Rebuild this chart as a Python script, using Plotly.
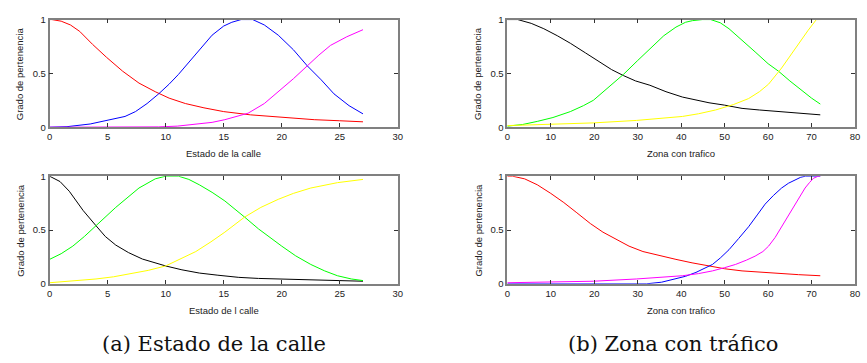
import plotly.graph_objects as go

# ---------------- data ----------------
# (a) top: Estado de la calle
a1_red_x = [0, 0.2, 1.0, 1.8, 2.6, 3.7, 4.9, 6.3, 7.7, 9.1, 10.3, 11.7, 13.3, 15.0, 17.3, 19.7, 22.8, 25.0, 27.0]
a1_red_y = [1.0, 1.0, 0.985, 0.95, 0.89, 0.77, 0.65, 0.52, 0.41, 0.33, 0.27, 0.22, 0.18, 0.145, 0.115, 0.094, 0.07, 0.06, 0.05]
a1_blue_x = [0, 1.5, 3.5, 5.4, 6.5, 7.4, 8.4, 9.4, 10.3, 11.1, 12.0, 12.8, 14.0, 15.0, 15.7, 16.5, 17.5, 18.5, 19.7, 21.0, 22.2, 23.4, 24.5, 25.8, 27.0]
a1_blue_y = [0.0, 0.005, 0.03, 0.07, 0.10, 0.145, 0.22, 0.31, 0.40, 0.49, 0.60, 0.70, 0.855, 0.94, 0.975, 1.0, 1.0, 0.95, 0.855, 0.72, 0.57, 0.44, 0.31, 0.2, 0.124]
a1_mag_x = [0, 5, 9.4, 11.0, 12.6, 14.0, 15.1, 16.2, 17.1, 18.5, 19.7, 21.0, 22.2, 23.2, 24.2, 25.6, 27.0]
a1_mag_y = [0.0, 0.0, 0.003, 0.01, 0.025, 0.045, 0.07, 0.10, 0.13, 0.22, 0.33, 0.45, 0.57, 0.67, 0.76, 0.84, 0.906]

# (b) top: Zona con trafico
b1_blk_x = [0, 2.4, 5.5, 8.4, 11.5, 14.5, 18.0, 21.4, 24.0, 26.7, 29.5, 32.8, 36.5, 40.3, 43.5, 46.4, 50.0, 54.0, 58.0, 62.4, 67.0, 72.0]
b1_blk_y = [1.0, 1.0, 0.965, 0.915, 0.85, 0.78, 0.69, 0.6, 0.535, 0.48, 0.43, 0.39, 0.33, 0.28, 0.25, 0.227, 0.205, 0.175, 0.16, 0.145, 0.13, 0.115]
b1_grn_x = [0, 3.5, 6.9, 10.5, 14.5, 17.5, 19.8, 23.0, 26.7, 30.0, 32.8, 36.0, 38.8, 41.0, 42.6, 44.9, 46.8, 49.0, 51.0, 54.0, 57.0, 60.0, 62.4, 65.0, 67.7, 70.0, 72.0]
b1_grn_y = [0.01, 0.025, 0.054, 0.09, 0.145, 0.2, 0.25, 0.36, 0.49, 0.62, 0.73, 0.85, 0.93, 0.975, 0.99, 1.0, 1.0, 0.97, 0.915, 0.81, 0.70, 0.59, 0.52, 0.43, 0.34, 0.27, 0.215]
b1_yel_x = [0, 10.0, 19.8, 29.7, 35.0, 40.3, 44.0, 47.9, 52.0, 55.5, 58.0, 60.1, 63.1, 66.2, 69.2, 71.1, 72.0]
b1_yel_y = [0.015, 0.025, 0.04, 0.063, 0.08, 0.1, 0.125, 0.16, 0.21, 0.266, 0.33, 0.40, 0.55, 0.73, 0.9, 1.0, 1.0]

# (a) bottom: Estado de l calle
a2_blk_x = [0, 0.9, 1.7, 2.3, 2.9, 4.0, 4.8, 5.7, 6.8, 8.0, 9.0, 10.0, 11.4, 12.9, 14.5, 16.3, 18.0, 19.7, 22.0, 24.2, 27.0]
a2_blk_y = [1.0, 0.95, 0.86, 0.77, 0.68, 0.54, 0.44, 0.36, 0.29, 0.23, 0.195, 0.166, 0.13, 0.10, 0.08, 0.06, 0.05, 0.045, 0.035, 0.027, 0.024]
a2_grn_x = [0, 1.0, 2.0, 3.0, 4.0, 5.7, 7.7, 9.1, 10.0, 11.1, 12.0, 12.9, 14.0, 15.1, 16.8, 18.0, 20.0, 21.2, 22.5, 23.7, 24.8, 26.0, 27.0]
a2_grn_y = [0.227, 0.28, 0.35, 0.44, 0.54, 0.71, 0.89, 0.975, 1.0, 1.0, 0.97, 0.92, 0.85, 0.77, 0.62, 0.51, 0.35, 0.26, 0.18, 0.12, 0.075, 0.045, 0.03]
a2_yel_x = [0, 2.0, 4.0, 5.5, 6.9, 8.5, 10.0, 11.3, 12.6, 13.9, 15.1, 16.8, 18.2, 19.7, 21.0, 22.5, 24.8, 27.0]
a2_yel_y = [0.01, 0.025, 0.045, 0.065, 0.09, 0.125, 0.166, 0.23, 0.30, 0.39, 0.48, 0.62, 0.71, 0.785, 0.84, 0.89, 0.94, 0.97]

# (b) bottom: Zona con trafico
b2_red_x = [0, 1.2, 4.0, 6.9, 10.0, 13.0, 16.0, 19.1, 22.0, 25.2, 28.0, 31.2, 35.0, 38.8, 42.5, 46.4, 50.0, 54.0, 58.0, 62.4, 67.0, 72.0]
b2_red_y = [1.0, 1.0, 0.975, 0.92, 0.84, 0.755, 0.66, 0.56, 0.48, 0.41, 0.35, 0.30, 0.26, 0.227, 0.195, 0.166, 0.14, 0.12, 0.108, 0.097, 0.085, 0.075]
b2_blu_x = [0, 32.0, 35.5, 38.8, 41.0, 43.4, 45.3, 47.2, 49.0, 51.0, 53.2, 55.5, 57.5, 59.3, 61.2, 63.1, 64.7, 66.2, 67.5, 68.6, 72.0]
b2_blu_y = [0.0, 0.0, 0.015, 0.045, 0.07, 0.106, 0.14, 0.18, 0.24, 0.317, 0.42, 0.53, 0.64, 0.74, 0.82, 0.89, 0.935, 0.967, 0.99, 1.0, 1.0]
b2_mag_x = [0, 10.0, 19.8, 29.7, 35.0, 40.3, 44.0, 47.2, 50.0, 52.5, 55.0, 57.0, 58.8, 60.1, 61.6, 63.1, 64.7, 66.2, 67.5, 68.5, 69.5, 70.4, 71.5, 72.0]
b2_mag_y = [0.01, 0.015, 0.024, 0.045, 0.058, 0.075, 0.095, 0.12, 0.15, 0.18, 0.22, 0.257, 0.3, 0.35, 0.43, 0.53, 0.64, 0.74, 0.83, 0.89, 0.94, 0.98, 1.0, 1.0]

x_ticks_a = [0, 5, 10, 15, 20, 25, 30]
x_ticks_b = [0, 10, 20, 30, 40, 50, 60, 70, 80]
y_ticks = [0, 0.5, 1]
y_tick_text = ["0", "0.5", "1"]

y_title = "Grado de pertenencia"
x_titles = ["Estado de la calle", "Zona con trafico", "Estado de l calle", "Zona con trafico"]
captions = ["(a) Estado de la calle", "(b) Zona con tráfico"]

# ---------------- figure ----------------
W, H = 867, 363
fig = go.Figure()

panels = [
    ("x", "y", [0, 30], x_ticks_a,
     [(a1_red_x, a1_red_y, "#ff0000"), (a1_blue_x, a1_blue_y, "#0000ff"), (a1_mag_x, a1_mag_y, "#ff00ff")],
     47, 398.5, 14, 125),
    ("x2", "y2", [0, 80], x_ticks_b,
     [(b1_blk_x, b1_blk_y, "#000000"), (b1_grn_x, b1_grn_y, "#00ff00"), (b1_yel_x, b1_yel_y, "#ffff00")],
     509, 860, 14, 125),
    ("x3", "y3", [0, 30], x_ticks_a,
     [(a2_blk_x, a2_blk_y, "#000000"), (a2_grn_x, a2_grn_y, "#00ff00"), (a2_yel_x, a2_yel_y, "#ffff00")],
     47, 398.5, 175.5, 286.5),
    ("x4", "y4", [0, 80], x_ticks_b,
     [(b2_red_x, b2_red_y, "#ff0000"), (b2_blu_x, b2_blu_y, "#0000ff"), (b2_mag_x, b2_mag_y, "#ff00ff")],
     509, 860, 175.5, 286.5),
]

tick_font = dict(family="Liberation Sans, Arial, sans-serif", size=9.5, color="#222")
annotations = []
for i, (xa, ya, xr, xt, series, l, r, t, b) in enumerate(panels):
    for sx, sy, col in series:
        fig.add_trace(go.Scatter(x=sx, y=sy, mode="lines", xaxis=xa, yaxis=ya,
                                 line=dict(color=col, width=1), showlegend=False,
                                 hoverinfo="skip"))
    xkey = "xaxis" + ("" if xa == "x" else xa[1:])
    ykey = "yaxis" + ("" if ya == "y" else ya[1:])
    fig.layout[xkey] = dict(domain=[l / W, r / W], range=xr, anchor=ya,
                            tickvals=xt, ticks="inside", ticklen=4, tickcolor="#333",
                            showline=True, linecolor="#808080", linewidth=1.5, mirror="ticks",
                            showgrid=False, zeroline=False, tickfont=tick_font, fixedrange=True)
    fig.layout[ykey] = dict(domain=[1 - b / H, 1 - t / H], range=[0, 1], anchor=xa,
                            tickvals=y_ticks, ticktext=y_tick_text, ticks="inside", ticklen=4,
                            tickcolor="#333", showline=True, linecolor="#808080", linewidth=1.5,
                            mirror="ticks", showgrid=False, zeroline=False, tickfont=tick_font,
                            fixedrange=True)
    annotations.append(dict(text=x_titles[i], x=(l + r) / 2 / W, y=1 - (b + 27.5) / H,
                            xref="paper", yref="paper", showarrow=False,
                            xanchor="center", yanchor="middle", font=tick_font))
    annotations.append(dict(text=y_title, x=(l - 30) / W, y=1 - (t + b) / 2 / H,
                            xref="paper", yref="paper", showarrow=False, textangle=-90,
                            xanchor="center", yanchor="middle", font=tick_font))

cap_font = dict(family="DejaVu Serif, Liberation Serif, serif", size=21, color="#111")
annotations.append(dict(text=captions[0], x=213 / W, y=1 - 349 / H, xref="paper", yref="paper",
                        showarrow=False, xanchor="center", yanchor="middle", font=cap_font))
annotations.append(dict(text=captions[1], x=676 / W, y=1 - 349 / H, xref="paper", yref="paper",
                        showarrow=False, xanchor="center", yanchor="middle", font=cap_font))

fig.update_layout(width=W, height=H, margin=dict(l=0, r=0, t=0, b=0),
                  paper_bgcolor="white", plot_bgcolor="white",
                  annotations=annotations)

fig.write_html("out.html", config={"displayModeBar": False},
               post_script="document.body.style.margin='0';document.body.style.overflow='hidden';")
